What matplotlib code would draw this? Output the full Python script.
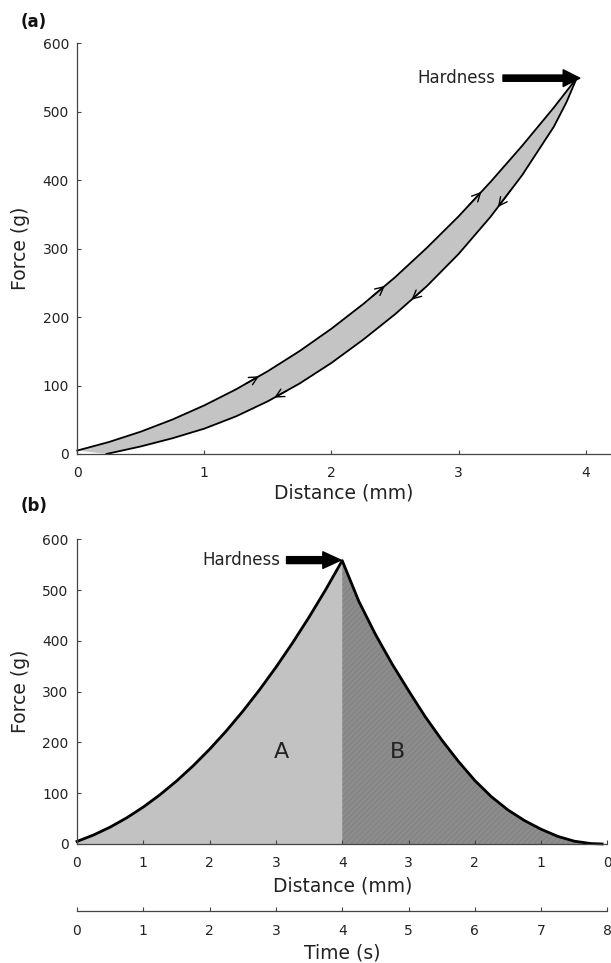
import numpy as np
import matplotlib.pyplot as plt

# panel (a): force-distance loop (loading up, unloading back down)
load_dist = [0, 0.25, 0.5, 0.75, 1.0, 1.25, 1.5, 1.75, 2.0, 2.25, 2.5, 2.75, 3.0, 3.25, 3.5, 3.75, 3.93]
load_force = [5, 17.5, 32.6, 50.4, 71, 94.5, 121, 150.4, 183, 219, 258, 301, 347, 397, 450, 506, 549]
unload_dist = [3.93, 3.85, 3.75, 3.5, 3.25, 3.0, 2.75, 2.5, 2.25, 2.0, 1.75, 1.5, 1.25, 1.0, 0.75, 0.5, 0.23]
unload_force = [549, 514, 478, 407, 346, 292, 245, 204, 167, 133, 103, 77, 55, 37, 23, 11, 0]
up_arrow_dist = [1.43, 2.42, 3.18]
down_arrow_dist = [1.55, 2.63, 3.31]
hardness_a = 549

# panel (b): force against distance / time
comp_time = [0, 0.25, 0.5, 0.75, 1, 1.25, 1.5, 1.75, 2, 2.25, 2.5, 2.75, 3, 3.25, 3.5, 3.75, 4]
comp_force = [5, 17.7, 33.2, 51.5, 72.7, 96.8, 123.8, 153.7, 186.6, 222.4, 261.2, 303.1,
              347.9, 395.8, 446.7, 500.7, 558]
decomp_time = [4, 4.25, 4.5, 4.75, 5, 5.25, 5.5, 5.75, 6, 6.25, 6.5, 6.75, 7, 7.25, 7.5, 7.75, 7.92]
decomp_force = [558, 478, 413, 355, 302, 251, 205, 163, 125, 93, 67, 46, 29, 15, 5.5, 0.8, 0]
dist_tick_labels = ['0', '1', '2', '3', '4', '3', '2', '1', '0']
time_ticks = [0, 1, 2, 3, 4, 5, 6, 7, 8]
hardness_b = 559

txt = '#222222'
spine_c = '#444444'
plt.rcParams['hatch.linewidth'] = 0.4


def style(ax):
    for s in ['top', 'right']:
        ax.spines[s].set_visible(False)
    for s in ['left', 'bottom']:
        ax.spines[s].set_color(spine_c)
        ax.spines[s].set_linewidth(0.9)
    ax.tick_params(axis='x', direction='in', length=3, width=0.8, color=spine_c,
                   labelsize=10, labelcolor=txt, pad=9)
    ax.tick_params(axis='y', direction='in', length=3, width=0.8, color=spine_c,
                   labelsize=10, labelcolor=txt, pad=6)
    ax.set_yticks(np.arange(0, 601, 100))
    ax.set_ylim(0, 600)


fig = plt.figure(figsize=(6.11, 9.63), dpi=100)

# ---- (a)
ax1 = fig.add_axes([0.1265, 0.5286, 0.8735, 0.4265])
style(ax1)
ax1.set_xlim(0, 4.2)
ax1.set_xticks([0, 1, 2, 3, 4])
ax1.fill(np.r_[load_dist, unload_dist], np.r_[load_force, unload_force],
         color='#c4c4c4', lw=0)
ax1.plot(load_dist, load_force, color='k', lw=1.3, clip_on=False, solid_joinstyle='round')
ax1.plot(unload_dist, unload_force, color='k', lw=1.3, clip_on=False, solid_joinstyle='round')

# direction arrows sitting on the curves
for d in up_arrow_dist:
    f = np.interp(d, load_dist, load_force)
    f0 = np.interp(d - 0.1, load_dist, load_force)
    ax1.annotate('', xy=(d, f), xytext=(d - 0.1, f0),
                 arrowprops=dict(arrowstyle='->', lw=1, mutation_scale=15,
                                 shrinkA=0, shrinkB=0, color='k'))
for d in down_arrow_dist:
    f = np.interp(d, unload_dist[::-1], unload_force[::-1])
    f0 = np.interp(d + 0.1, unload_dist[::-1], unload_force[::-1])
    ax1.annotate('', xy=(d, f), xytext=(d + 0.1, f0),
                 arrowprops=dict(arrowstyle='->', lw=1, mutation_scale=15,
                                 shrinkA=0, shrinkB=0, color='k'))

ax1.annotate('', xy=(3.955, hardness_a), xytext=(3.35, hardness_a),
             arrowprops=dict(facecolor='black', edgecolor='black', width=4.5,
                             headwidth=12, headlength=12, shrink=0))
ax1.text(3.29, hardness_a, 'Hardness', ha='right', va='center', fontsize=12, color=txt)

ax1.set_xlabel('Distance (mm)', fontsize=13.5, color=txt, va='center')
ax1.xaxis.set_label_coords(0.5, -0.095)
ax1.set_ylabel('Force (g)', fontsize=13.5, color=txt, va='center')
ax1.yaxis.set_label_coords(-0.107, 0.5)

# ---- (b)
ax2 = fig.add_axes([0.126, 0.1236, 0.8682, 0.3164])
style(ax2)
ax2.set_xlim(0, 8)
ax2.set_xticks(time_ticks)
ax2.set_xticklabels(dist_tick_labels)
ax2.fill_between(comp_time, comp_force, color='#c2c2c2', lw=0)
ax2.fill_between(decomp_time, decomp_force, facecolor='#8c8c8c', edgecolor='#7a7a7a',
                 hatch='//////', lw=0)
ax2.plot(np.r_[comp_time, decomp_time[1:]], np.r_[comp_force, decomp_force[1:]],
         color='k', lw=2, clip_on=False, solid_joinstyle='round')

ax2.text(3.08, 182, 'A', fontsize=16, ha='center', va='center', color=txt)
ax2.text(4.84, 182, 'B', fontsize=16, ha='center', va='center', color=txt)

ax2.annotate('', xy=(3.98, hardness_b), xytext=(3.16, hardness_b),
             arrowprops=dict(facecolor='black', edgecolor='black', width=5,
                             headwidth=12, headlength=13, shrink=0))
ax2.text(3.06, hardness_b, 'Hardness', ha='right', va='center', fontsize=12, color=txt)

ax2.set_xlabel('Distance (mm)', fontsize=13.5, color=txt, va='center')
ax2.xaxis.set_label_coords(0.5, -0.138)
ax2.set_ylabel('Force (g)', fontsize=13.5, color=txt, va='center')
ax2.yaxis.set_label_coords(-0.107, 0.5)

sec = ax2.secondary_xaxis(-0.22)
sec.set_xticks(time_ticks)
sec.spines['bottom'].set_color(spine_c)
sec.spines['bottom'].set_linewidth(0.9)
sec.tick_params(direction='in', length=3, width=0.8, color=spine_c,
                labelsize=10, labelcolor=txt, pad=9)
sec.set_xlabel('Time (s)', fontsize=13.5, color=txt, labelpad=4)

fig.text(0.034, 1 - 22 / 963, '(a)', fontsize=12, fontweight='bold', va='center', color='#111111')
fig.text(0.034, 1 - 506 / 963, '(b)', fontsize=12, fontweight='bold', va='center', color='#111111')

fig.savefig('out.png', dpi=100)
